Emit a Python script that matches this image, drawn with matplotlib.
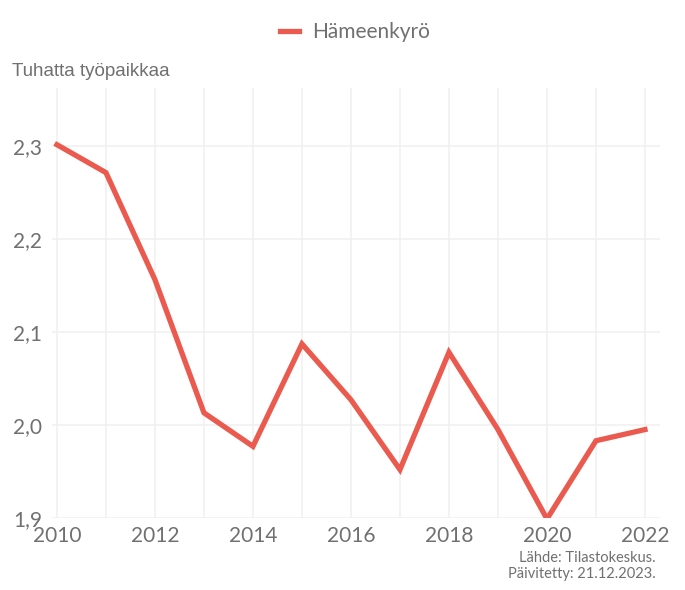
import matplotlib
matplotlib.use("Agg")
import matplotlib.pyplot as plt

vuodet = [2010, 2011, 2012, 2013, 2014, 2015, 2016, 2017, 2018, 2019, 2020, 2021, 2022]
tyopaikat = [2.301, 2.271, 2.156, 2.013, 1.977, 2.087, 2.027, 1.952, 2.078, 1.995, 1.899, 1.983, 1.995]
y_ticks = [1.9, 2.0, 2.1, 2.2, 2.3]
x_ticks = [2010, 2012, 2014, 2016, 2018, 2020, 2022]
sarja = 'Hämeenkyrö'

harmaa = '#707070'
punainen = '#EB5A4E'
fontti = ['Lato', 'DejaVu Sans']

fig = plt.figure(figsize=(6.85, 5.9), dpi=100)
ax = fig.add_axes([0.076, 0.122, 0.887, 0.729])

ax.plot(vuodet, tyopaikat, color=punainen, lw=3.8, label=sarja, solid_joinstyle='miter', zorder=3)

ax.set_xlim(2009.9, 2022.3)
ax.set_ylim(1.9, 2.362)
ax.set_xticks(vuodet, minor=True)
ax.set_xticks(x_ticks)
ax.set_xticklabels([str(v) for v in x_ticks])
ax.set_yticks(y_ticks)
ax.set_yticklabels([('%.1f' % v).replace('.', ',') for v in y_ticks])
ax.grid(True, which='both', axis='x', color='#f0f0f0', lw=1.1)
ax.grid(True, which='major', axis='y', color='#f0f0f0', lw=1.1)
for s in ax.spines.values():
	s.set_visible(False)
ax.tick_params(axis='both', which='both', length=0, labelcolor=harmaa, labelsize=15)
ax.tick_params(axis='y', pad=7)
ax.tick_params(axis='x', pad=6)
for t in ax.get_xticklabels() + ax.get_yticklabels():
	t.set_family(fontti)

fig.text(12/685, 1 - 72/590, 'Tuhatta työpaikkaa', fontsize=13.5, color=harmaa,
	family='Liberation Sans', va='center', ha='left')

leg = fig.legend(loc='center', bbox_to_anchor=(355/685, 1 - 32/590), frameon=False,
	handlelength=0.9, handletextpad=0.6, prop={'family': fontti, 'size': 15})
for t in leg.get_texts():
	t.set_color(harmaa)

fig.text(656/685, 1 - 566/590, 'Lähde: Tilastokeskus.\nPäivitetty: 21.12.2023.', fontsize=10.5,
	color=harmaa, family=fontti, ha='right', va='center', linespacing=1.1)

fig.savefig('out.png', dpi=100)
